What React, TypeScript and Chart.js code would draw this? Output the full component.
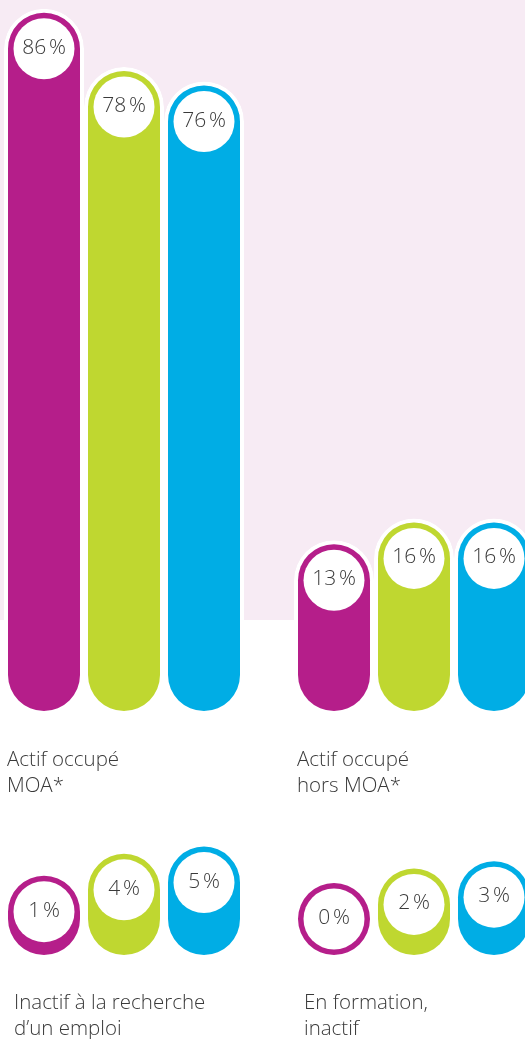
import React, { useEffect, useRef } from 'react';
import { Chart, registerables } from 'chart.js';

Chart.register(...registerables);

// ---- data ----
const categoriesTop: string[][] = [
  ['Actif occupé', 'MOA*'],
  ['Actif occupé', 'hors MOA*'],
];
const categoriesBottom: string[][] = [
  ['Inactif à la recherche', 'd’un emploi'],
  ['En formation,', 'inactif'],
];
const seriesMagentaTop = [86, 13];
const seriesGreenTop = [78, 16];
const seriesBlueTop = [76, 16];
const seriesMagentaBottom = [1, 0];
const seriesGreenBottom = [4, 2];
const seriesBlueBottom = [5, 3];
const percentSuffix = '\u202F%';

const MAGENTA = '#B51E8A';
const GREEN = '#BFD730';
const BLUE = '#00ADE5';
const PINK = '#F7EBF4';
const TEXT = '#3a3a3a';
const FONT = '"Open Sans", "Noto Sans", sans-serif';

const bubbleLabels = {
  id: 'bubbleLabels',
  afterDatasetsDraw(chart: any) {
    const ctx = chart.ctx as CanvasRenderingContext2D;
    chart.data.datasets.forEach((ds: any, di: number) => {
      const meta = chart.getDatasetMeta(di);
      meta.data.forEach((el: any, i: number) => {
        const r = el.width / 2;
        const cx = el.x;
        const cy = el.y + r;
        ctx.save();
        ctx.beginPath();
        ctx.arc(cx, cy, r - 9.5, 0, Math.PI * 2);
        ctx.fillStyle = '#ffffff';
        ctx.fill();
        ctx.font = `300 21px ${FONT}`;
        ctx.fillStyle = TEXT;
        ctx.textAlign = 'center';
        ctx.textBaseline = 'middle';
        ctx.fillText(`${ds.data[i]}${percentSuffix}`, cx, cy - 1);
        ctx.restore();
      });
    });
  },
};

function makeConfig(
  labels: string[][],
  m: number[],
  g: number[],
  b: number[],
  yMax: number,
  axisHeight: number,
  tickPadding: number,
  labelOffset: number
): any {
  const common = {
    base: -11,
    borderColor: '#ffffff',
    borderWidth: 4,
    borderRadius: 40,
    borderSkipped: false,
    categoryPercentage: 240 / 290,
    barPercentage: 1,
  };
  return {
    type: 'bar',
    data: {
      labels,
      datasets: [
        { label: 'Série 1', data: m, backgroundColor: MAGENTA, ...common },
        { label: 'Série 2', data: g, backgroundColor: GREEN, ...common },
        { label: 'Série 3', data: b, backgroundColor: BLUE, ...common },
      ],
    },
    options: {
      animation: false,
      responsive: false,
      maintainAspectRatio: false,
      events: [],
      layout: { padding: 0 },
      plugins: { legend: { display: false }, tooltip: { enabled: false } },
      scales: {
        x: {
          type: 'category',
          offset: true,
          grid: { display: false, drawTicks: false },
          border: { display: false },
          ticks: {
            align: 'start',
            labelOffset,
            padding: tickPadding,
            color: TEXT,
            maxRotation: 0,
            minRotation: 0,
            autoSkip: false,
            font: { family: FONT, size: 20.5, weight: '300', lineHeight: 26 / 20.5 },
          },
          afterFit: (scale: any) => {
            scale.height = axisHeight;
            scale.paddingLeft = 0;
            scale.paddingRight = 0;
          },
        },
        y: {
          display: false,
          min: -11,
          max: yMax,
        },
      },
    },
    plugins: [bubbleLabels],
  };
}

export default function App() {
  const topRef = useRef<HTMLCanvasElement>(null);
  const bottomRef = useRef<HTMLCanvasElement>(null);

  useEffect(() => {
    const c1 = new Chart(
      topRef.current!,
      makeConfig(categoriesTop, seriesMagentaTop, seriesGreenTop, seriesBlueTop, 87.2, 115, 32, -117)
    );
    const c2 = new Chart(
      bottomRef.current!,
      makeConfig(categoriesBottom, seriesMagentaBottom, seriesGreenBottom, seriesBlueBottom, 6.73, 80, 31, -110)
    );
    return () => {
      c1.destroy();
      c2.destroy();
    };
  }, []);

  return (
    <div
      style={{
        position: 'absolute',
        left: 0,
        top: 0,
        width: 525,
        height: 1039,
        overflow: 'hidden',
        background: '#ffffff',
      }}
    >
      <div style={{ position: 'absolute', left: 0, top: 0, width: 525, height: 620, background: PINK }} />
      <canvas
        ref={topRef}
        width={580}
        height={830}
        style={{ position: 'absolute', left: -21, top: 0, width: 580, height: 830 }}
      />
      <canvas
        ref={bottomRef}
        width={580}
        height={209}
        style={{ position: 'absolute', left: -21, top: 830, width: 580, height: 209 }}
      />
    </div>
  );
}
